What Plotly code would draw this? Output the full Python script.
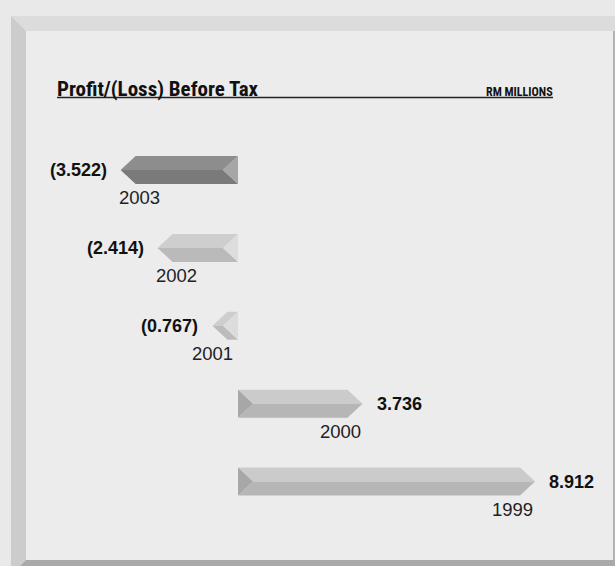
import plotly.graph_objects as go

# ---- data ----
years = ["2003", "2002", "2001", "2000", "1999"]
values = [-3.522, -2.414, -0.767, 3.736, 8.912]
value_labels = ["(3.522)", "(2.414)", "(0.767)", "3.736", "8.912"]
title_text = "Profit/(Loss) Before Tax"
unit_text = "RM MILLIONS"

# ---- styles ----
top_cols = ["#8d8d8d", "#cecece", "#cecece", "#cbcbcb", "#cbcbcb"]
bot_cols = ["#7a7a7a", "#bababa", "#bcbcbc", "#b6b6b6", "#b6b6b6"]
end_cols = ["#a6a6a6", "#dddddd", "#dcdcdc", "#a7a7a7", "#a7a7a7"]

W, H = 615, 566
X0PX = 238.0
SCALE = 33.33
ROW0PX = 170.0
ROWSTEP = 77.9
HALF_PX = 14.0
TIP_PX = 15.0

xr = [-X0PX / SCALE, (W - X0PX) / SCALE]
yr = [(H - ROW0PX) / ROWSTEP, -ROW0PX / ROWSTEP]
d = TIP_PX / SCALE
h = HALF_PX / ROWSTEP

fig = go.Figure()


def poly(xs, ys, col):
    fig.add_trace(go.Scatter(x=xs + [xs[0]], y=ys + [ys[0]], fill="toself", fillcolor=col,
                             mode="lines", line=dict(width=0, color=col),
                             hoverinfo="skip", showlegend=False))


for i, v in enumerate(values):
    c = i
    if v < 0:
        t = v
        poly([t, t + d, 0, -d], [c, c - h, c - h, c], top_cols[i])
        poly([t, t + d, 0, -d], [c, c + h, c + h, c], bot_cols[i])
        poly([-d, 0, 0], [c, c - h, c + h], end_cols[i])
    else:
        t = v
        poly([0, t - d, t, d], [c - h, c - h, c, c], top_cols[i])
        poly([d, t, t - d, 0], [c, c, c + h, c + h], bot_cols[i])
        poly([0, d, 0], [c - h, c, c + h], end_cols[i])

VAL_FONT = dict(family="Liberation Sans, Arial", size=18, color="#111111")
YEAR_FONT = dict(family="Liberation Sans, Arial", size=18.5, color="#222222")

annotations = []
for i, v in enumerate(values):
    neg = v < 0
    annotations.append(dict(x=v, y=i, xref="x", yref="y", text="<b>%s</b>" % value_labels[i],
                            showarrow=False, xanchor="right" if neg else "left",
                            xshift=-12 if neg else 12, yanchor="middle", font=VAL_FONT))
    if neg:
        xr_px = min(v * SCALE + 41, -3)
        annotations.append(dict(x=xr_px / SCALE, y=i + 27.5 / ROWSTEP, xref="x", yref="y",
                                text=years[i], showarrow=False, xanchor="right", yanchor="middle",
                                font=YEAR_FONT))
    else:
        annotations.append(dict(x=v, y=i + 27.5 / ROWSTEP, xref="x", yref="y",
                                text=years[i], showarrow=False, xanchor="right", yanchor="middle",
                                font=YEAR_FONT))


def px(x):
    return x / W


def py(y):
    return 1 - y / H


annotations.append(dict(x=px(55), y=py(103), xref="paper", yref="paper",
                        text='<span style="font-stretch:condensed"><b>%s</b></span>' % title_text,
                        showarrow=False, xanchor="left", yanchor="bottom",
                        font=dict(family="Roboto", size=21, color="#111111")))
annotations.append(dict(x=px(555), y=py(101), xref="paper", yref="paper",
                        text='<span style="font-stretch:condensed"><b>%s</b></span>' % unit_text,
                        showarrow=False, xanchor="right", yanchor="bottom",
                        font=dict(family="Roboto", size=12, color="#111111")))


def pshape(pts, col):
    path = "M " + " L ".join("%f,%f" % (px(a), py(b)) for a, b in pts) + " Z"
    return dict(type="path", xref="paper", yref="paper", path=path, fillcolor=col,
                line=dict(width=0), layer="below")


shapes = [
    pshape([(11, 16), (615, 16), (615, 566), (11, 566)], "#ececec"),
    pshape([(11, 16), (615, 16), (615, 31), (26, 31)], "#dcdcdc"),
    pshape([(11, 16), (26, 31), (26, 560), (20, 566), (11, 566)], "#cccccc"),
    pshape([(26, 560), (615, 560), (615, 566), (20, 566)], "#a9a9a9"),
    pshape([(613, 31), (615, 31), (615, 560), (613, 560)], "#b3b3b3"),
    dict(type="line", xref="paper", yref="paper", x0=px(57), x1=px(553), y0=py(97.5), y1=py(97.5),
         line=dict(color="#222222", width=1.5), layer="above"),
]

fig.update_layout(
    width=W, height=H, margin=dict(l=0, r=0, t=0, b=0),
    paper_bgcolor="#e9e9e9", plot_bgcolor="rgba(0,0,0,0)",
    xaxis=dict(range=xr, visible=False, fixedrange=True),
    yaxis=dict(range=yr, visible=False, fixedrange=True),
    annotations=annotations, shapes=shapes, showlegend=False,
)

fig.write_html("out.html")
